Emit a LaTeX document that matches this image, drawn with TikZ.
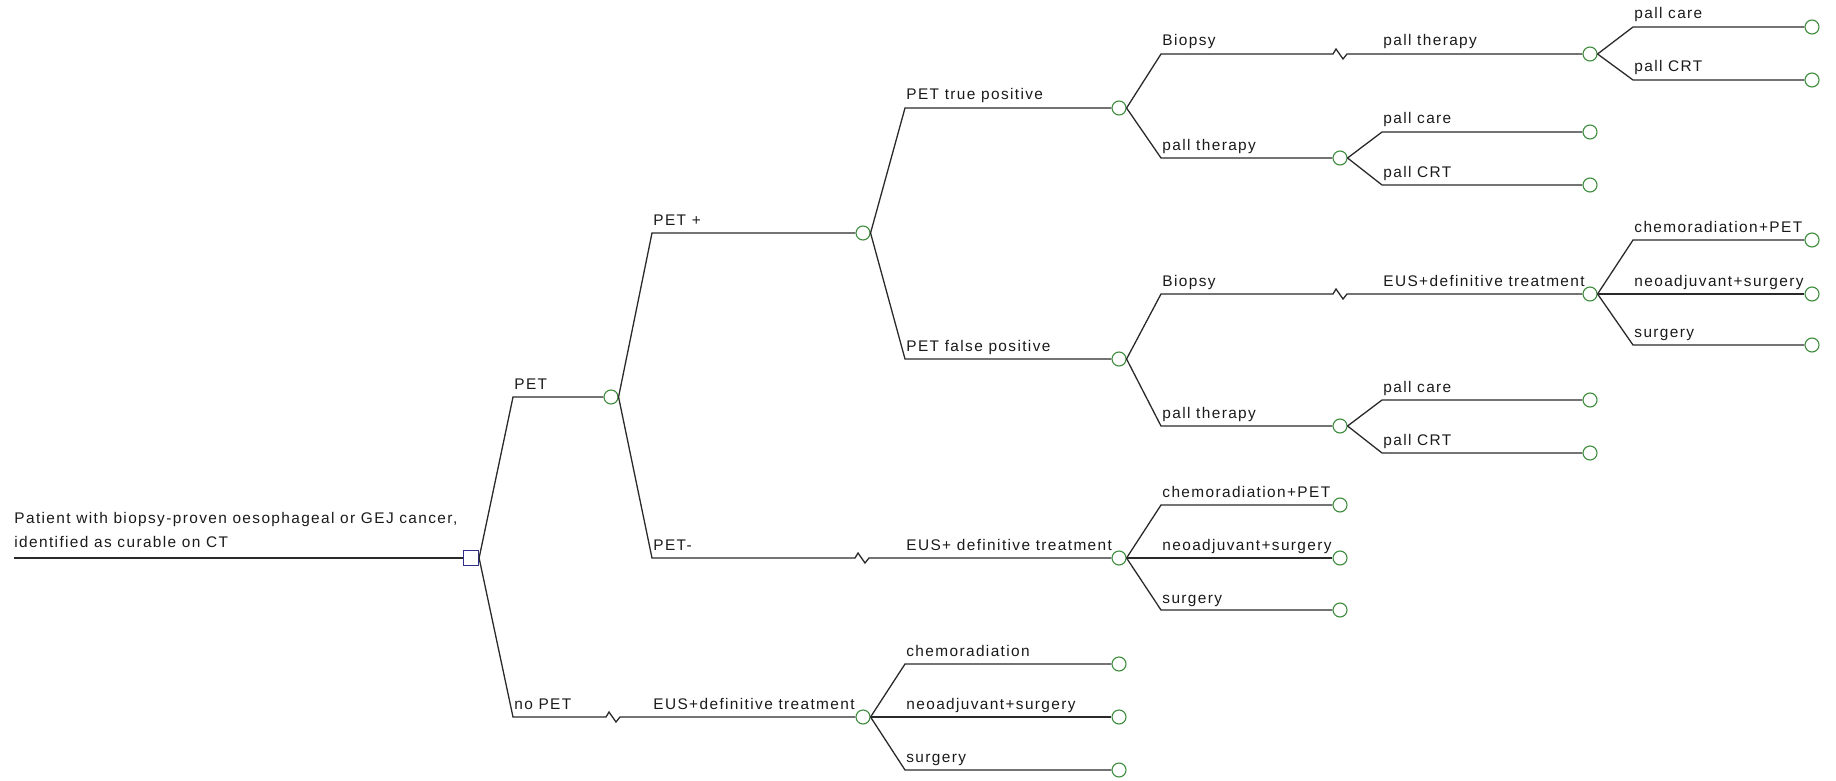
\documentclass[tikz,border=0pt]{standalone}
\usepackage{fontspec}
\usetikzlibrary{calc}
\newfontfamily\treefont[LetterSpace=9]{Liberation Sans}
\definecolor{edgecol}{HTML}{2A2A2A}
\definecolor{chancecol}{HTML}{3C8C3C}
\definecolor{decisioncol}{HTML}{30308C}
\definecolor{textcol}{HTML}{1A1A1A}
\tikzset{
  branch/.style={draw=edgecol, line width=0.65pt, line join=miter},
  chancenode/.style={circle, draw=chancecol, fill=white, line width=0.55pt,
    minimum size=7pt, inner sep=0pt},
  decisionnode/.style={rectangle, draw=decisioncol, fill=white, line width=0.6pt,
    minimum size=7.5pt, inner sep=0pt},
  lbl/.style={anchor=base west, inner sep=0pt, text=textcol,
    font=\treefont\fontsize{7.7}{9}\selectfont},
}
% break mark on a branch, centred on coordinate #1
\newcommand\zig[1]{($(#1)+(-7,0)$) -- ($(#1)+(-4,-5)$) -- ($(#1)+(3,5)$) -- ($(#1)+(7,0)$)}
\begin{document}
\begin{tikzpicture}[x=0.5pt, y=-0.5pt]
\useasboundingbox (0,0) rectangle (1836,781);

% ---------- root ----------
\coordinate (rootstart) at (14,558);
\node[decisionnode] (d0) at (471,558) {};
\draw[branch] (rootstart) -- (d0.west);
\node[lbl] (t-root1) at (14,523) {Patient with biopsy-proven oesophageal or GEJ cancer,};
\node[lbl] (t-root2) at (14,547) {identified as curable on CT};

% ---------- level 1 ----------
\coordinate (e-pet) at (513,397);
\node[chancenode] (c-pet) at (611,397) {};
\draw[branch] (d0.east) -- (e-pet) -- (c-pet.west);
\node[lbl] (t-pet) at (514,389) {PET};

\coordinate (e-nopet) at (513,717);
\coordinate (z-nopet) at (613,717);
\node[chancenode] (c-nopet) at (863,717) {};
\draw[branch] (d0.east) -- (e-nopet) -- \zig{z-nopet} -- (c-nopet.west);
\node[lbl] (t-nopet) at (514,709) {no PET};
\node[lbl] (t-nopet2) at (653,709) {EUS+definitive treatment};

% ---------- PET ----------
\coordinate (e-petpos) at (652,233);
\node[chancenode] (c-petpos) at (863,233) {};
\draw[branch] (c-pet.east) -- (e-petpos) -- (c-petpos.west);
\node[lbl] (t-petpos) at (653,225) {PET +};

\coordinate (e-petneg) at (652,558);
\coordinate (z-petneg) at (862,558);
\node[chancenode] (c-petneg) at (1119,558) {};
\draw[branch] (c-pet.east) -- (e-petneg) -- \zig{z-petneg} -- (c-petneg.west);
\node[lbl] (t-petneg) at (653,550) {PET-};
\node[lbl] (t-petneg2) at (906,550) {EUS+ definitive treatment};

% ---------- no PET ----------
\coordinate (e-np1) at (905,664);
\node[chancenode] (c-np1) at (1119,664) {};
\draw[branch] (c-nopet.east) -- (e-np1) -- (c-np1.west);
\node[lbl] (t-np1) at (906,656) {chemoradiation};

\coordinate (e-np2) at (905,717);
\node[chancenode] (c-np2) at (1119,717) {};
\draw[branch] (c-nopet.east) -- (e-np2) -- (c-np2.west);
\node[lbl] (t-np2) at (906,709) {neoadjuvant+surgery};

\coordinate (e-np3) at (905,770);
\node[chancenode] (c-np3) at (1119,770) {};
\draw[branch] (c-nopet.east) -- (e-np3) -- (c-np3.west);
\node[lbl] (t-np3) at (906,762) {surgery};

% ---------- PET + ----------
\coordinate (e-tp) at (905,108);
\node[chancenode] (c-tp) at (1119,108) {};
\draw[branch] (c-petpos.east) -- (e-tp) -- (c-tp.west);
\node[lbl] (t-tp) at (906,100) {PET true positive};

\coordinate (e-fp) at (905,359);
\node[chancenode] (c-fp) at (1119,359) {};
\draw[branch] (c-petpos.east) -- (e-fp) -- (c-fp.west);
\node[lbl] (t-fp) at (906,351) {PET false positive};

% ---------- PET- ----------
\coordinate (e-n1) at (1161,505);
\node[chancenode] (c-n1) at (1340,505) {};
\draw[branch] (c-petneg.east) -- (e-n1) -- (c-n1.west);
\node[lbl] (t-n1) at (1162,497) {chemoradiation+PET};

\coordinate (e-n2) at (1161,558);
\node[chancenode] (c-n2) at (1340,558) {};
\draw[branch] (c-petneg.east) -- (e-n2) -- (c-n2.west);
\node[lbl] (t-n2) at (1162,550) {neoadjuvant+surgery};

\coordinate (e-n3) at (1161,610);
\node[chancenode] (c-n3) at (1340,610) {};
\draw[branch] (c-petneg.east) -- (e-n3) -- (c-n3.west);
\node[lbl] (t-n3) at (1162,603) {surgery};

% ---------- PET true positive ----------
\coordinate (e-tpb) at (1161,54);
\coordinate (z-tpb) at (1340,54);
\node[chancenode] (c-tpb) at (1590,54) {};
\draw[branch] (c-tp.east) -- (e-tpb) -- \zig{z-tpb} -- (c-tpb.west);
\node[lbl] (t-tpb) at (1162,46) {Biopsy};
\node[lbl] (t-tpb2) at (1383,46) {pall therapy};

\coordinate (e-tpp) at (1161,158);
\node[chancenode] (c-tpp) at (1340,158) {};
\draw[branch] (c-tp.east) -- (e-tpp) -- (c-tpp.west);
\node[lbl] (t-tpp) at (1162,150) {pall therapy};

\coordinate (e-tpb1) at (1633,27);
\node[chancenode] (c-tpb1) at (1812,27) {};
\draw[branch] (c-tpb.east) -- (e-tpb1) -- (c-tpb1.west);
\node[lbl] (t-tpb1) at (1634,19) {pall care};

\coordinate (e-tpb2) at (1633,80);
\node[chancenode] (c-tpb2) at (1812,80) {};
\draw[branch] (c-tpb.east) -- (e-tpb2) -- (c-tpb2.west);
\node[lbl] (t-tpb2b) at (1634,72) {pall CRT};

\coordinate (e-tpp1) at (1382,132);
\node[chancenode] (c-tpp1) at (1590,132) {};
\draw[branch] (c-tpp.east) -- (e-tpp1) -- (c-tpp1.west);
\node[lbl] (t-tpp1) at (1383,124) {pall care};

\coordinate (e-tpp2) at (1382,185);
\node[chancenode] (c-tpp2) at (1590,185) {};
\draw[branch] (c-tpp.east) -- (e-tpp2) -- (c-tpp2.west);
\node[lbl] (t-tpp2) at (1383,177) {pall CRT};

% ---------- PET false positive ----------
\coordinate (e-fpb) at (1161,294);
\coordinate (z-fpb) at (1340,294);
\node[chancenode] (c-fpb) at (1590,294) {};
\draw[branch] (c-fp.east) -- (e-fpb) -- \zig{z-fpb} -- (c-fpb.west);
\node[lbl] (t-fpb) at (1162,286) {Biopsy};
\node[lbl] (t-fpb2) at (1383,286) {EUS+definitive treatment};

\coordinate (e-fpp) at (1161,426);
\node[chancenode] (c-fpp) at (1340,426) {};
\draw[branch] (c-fp.east) -- (e-fpp) -- (c-fpp.west);
\node[lbl] (t-fpp) at (1162,418) {pall therapy};

\coordinate (e-fpb1) at (1633,240);
\node[chancenode] (c-fpb1) at (1812,240) {};
\draw[branch] (c-fpb.east) -- (e-fpb1) -- (c-fpb1.west);
\node[lbl] (t-fpb1) at (1634,232) {chemoradiation+PET};

\coordinate (e-fpb2) at (1633,294);
\node[chancenode] (c-fpb2) at (1812,294) {};
\draw[branch] (c-fpb.east) -- (e-fpb2) -- (c-fpb2.west);
\node[lbl] (t-fpb2b) at (1634,286) {neoadjuvant+surgery};

\coordinate (e-fpb3) at (1633,345);
\node[chancenode] (c-fpb3) at (1812,345) {};
\draw[branch] (c-fpb.east) -- (e-fpb3) -- (c-fpb3.west);
\node[lbl] (t-fpb3) at (1634,337) {surgery};

\coordinate (e-fpp1) at (1382,400);
\node[chancenode] (c-fpp1) at (1590,400) {};
\draw[branch] (c-fpp.east) -- (e-fpp1) -- (c-fpp1.west);
\node[lbl] (t-fpp1) at (1383,392) {pall care};

\coordinate (e-fpp2) at (1382,453);
\node[chancenode] (c-fpp2) at (1590,453) {};
\draw[branch] (c-fpp.east) -- (e-fpp2) -- (c-fpp2.west);
\node[lbl] (t-fpp2) at (1383,445) {pall CRT};
\end{tikzpicture}
\end{document}
